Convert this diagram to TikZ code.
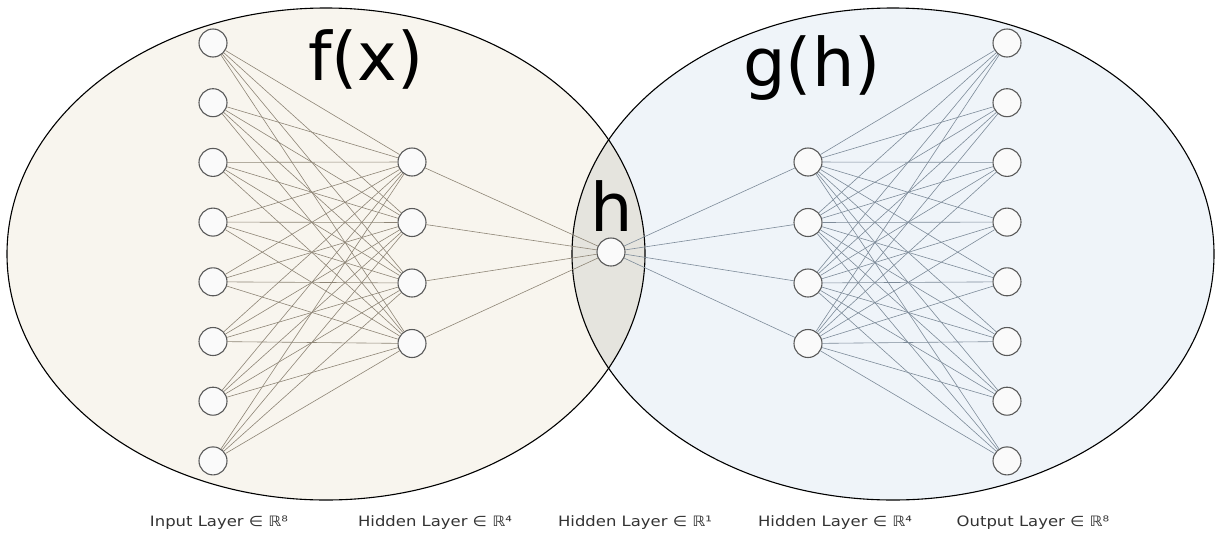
\documentclass[tikz,border=0pt]{standalone}
\usepackage{fontspec}
\setmainfont{DejaVu Sans}
\newfontfamily\labfont[FakeStretch=1.15]{DejaVu Sans}
\begin{document}
\begin{tikzpicture}[x=1pt,y=-1pt,
  neuron/.style={circle,draw=black!65,line width=1.1pt,fill=white!96!gray,minimum size=28pt,inner sep=0pt},
  ledge/.style={draw=lcol,line width=0.6pt},
  redge/.style={draw=rcol,line width=0.6pt},
  laylab/.style={font=\labfont\fontsize{14.3}{16}\selectfont,text=black!80,anchor=base},
  big/.style={font=\fontsize{67}{70}\selectfont,text=black}]
\useasboundingbox (0,0) rectangle (1222,536);
\definecolor{lfill}{HTML}{F8F5EE}
\definecolor{rfill}{HTML}{EFF4F9}
\definecolor{ofill}{HTML}{E5E4DE}
\definecolor{lcol}{HTML}{8E8576}
\definecolor{rcol}{HTML}{7D8B99}
% ellipses
\fill[lfill] (326,254) ellipse [x radius=319,y radius=246];
\fill[rfill] (893,254) ellipse [x radius=321,y radius=246];
\begin{scope}
\clip (326,254) ellipse [x radius=319,y radius=246];
\fill[ofill] (893,254) ellipse [x radius=321,y radius=246];
\end{scope}
\draw[line width=1.1pt] (326,254) ellipse [x radius=319,y radius=246];
\draw[line width=1.1pt] (893,254) ellipse [x radius=321,y radius=246];
% nodes
\foreach \k in {1,...,8}{
  \node[neuron] (i\k) at (213,{43+59.7*(\k-1)}) {};
  \node[neuron] (o\k) at (1007,{43+59.7*(\k-1)}) {};
}
\foreach \k in {1,...,4}{
  \node[neuron] (a\k) at (412,{162+60.5*(\k-1)}) {};
  \node[neuron] (b\k) at (808,{162+60.5*(\k-1)}) {};
}
\node[neuron] (h) at (611,252) {};
% edges
\foreach \i in {1,...,8}{\foreach \j in {1,...,4}{\draw[ledge] (i\i) -- (a\j);}}
\foreach \j in {1,...,4}{\draw[ledge] (a\j) -- (h);}
\foreach \j in {1,...,4}{\draw[redge] (h) -- (b\j);}
\foreach \j in {1,...,4}{\foreach \i in {1,...,8}{\draw[redge] (b\j) -- (o\i);}}
% big labels
\node[big,anchor=base] (fx) at (366,80) {f(x)};
\node[big,anchor=base] (gh) at (812,86) {g(h)};
\node[big,anchor=base] (hl) at (612,231) {h};
% layer labels
\node[laylab] (l1) at (219,526) {Input Layer ∈ ℝ⁸};
\node[laylab] (l2) at (435,526) {Hidden Layer ∈ ℝ⁴};
\node[laylab] (l3) at (635,526) {Hidden Layer ∈ ℝ¹};
\node[laylab] (l4) at (835,526) {Hidden Layer ∈ ℝ⁴};
\node[laylab] (l5) at (1033,526) {Output Layer ∈ ℝ⁸};
\end{tikzpicture}
\end{document}
